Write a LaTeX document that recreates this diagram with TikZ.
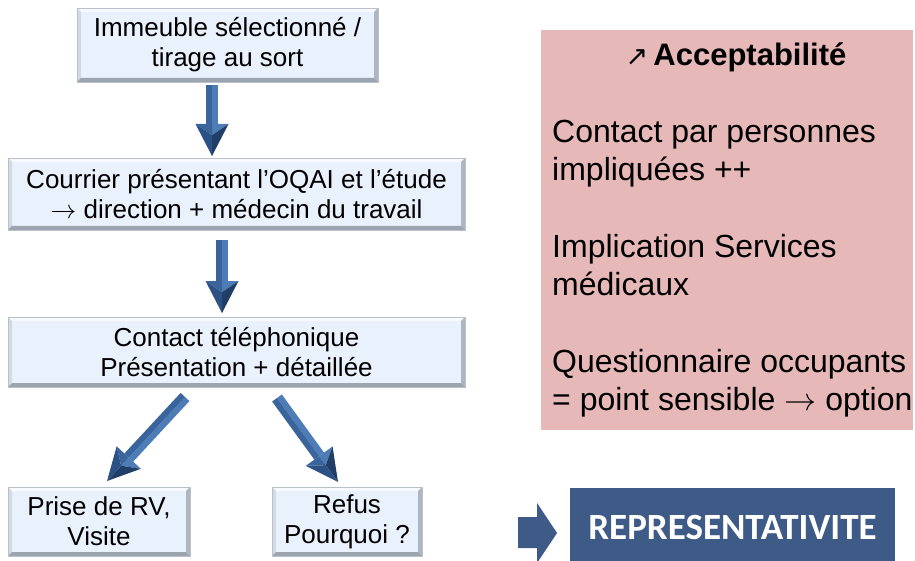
\RequirePackage{fix-cm}
\documentclass[tikz,border=0pt]{standalone}
\usepackage{fontspec}
\setmainfont{Liberation Sans}
\newfontfamily\carlito{Carlito}
\newfontfamily\dejavu{DejaVu Sans}
\usetikzlibrary{calc}
\definecolor{boxfill}{HTML}{E9F1FC}
\definecolor{bvtop}{HTML}{F6F9FE}
\definecolor{bvleft}{HTML}{D3DAE5}
\definecolor{bvright}{HTML}{AEB6C2}
\definecolor{bvbot}{HTML}{9CA4B0}
\definecolor{bvedge}{HTML}{B9C0CA}
\definecolor{pinkc}{HTML}{E6B9B8}
\definecolor{repblue}{HTML}{3E5A87}
\definecolor{arlight}{HTML}{4E7CB7}
\definecolor{armid}{HTML}{3A649C}
\definecolor{ardark}{HTML}{213E66}
\definecolor{armdark}{HTML}{2C5184}
\tikzset{
  flowbox/.style={fill=boxfill, align=center, inner sep=0pt, outer sep=0pt,
    font=\fontsize{26}{30}\selectfont, text=black},
}
\newcommand\bevel[1]{%
  \fill[bvtop] (#1.north west) -- (#1.north east) -- ([shift={(-4pt,-4pt)}]#1.north east) -- ([shift={(4pt,-4pt)}]#1.north west) -- cycle;
  \fill[bvleft] (#1.north west) -- ([shift={(4pt,-4pt)}]#1.north west) -- ([shift={(4pt,4pt)}]#1.south west) -- (#1.south west) -- cycle;
  \fill[bvright] (#1.north east) -- ([shift={(-4pt,-4pt)}]#1.north east) -- ([shift={(-4pt,4pt)}]#1.south east) -- (#1.south east) -- cycle;
  \fill[bvbot] (#1.south west) -- ([shift={(4pt,4pt)}]#1.south west) -- ([shift={(-4pt,4pt)}]#1.south east) -- (#1.south east) -- cycle;
  \draw[bvedge, line width=0.6pt] (#1.north west) rectangle (#1.south east);
}
% 3D block arrow from #1 (tail) to #2 (tip)
\newcommand\tdarrow[2]{%
  \coordinate (hc) at ($(#2)!32pt!(#1)$);
  \coordinate (t1) at ($(#1)!6pt!90:(#2)$);
  \coordinate (t2) at ($(#1)!6pt!-90:(#2)$);
  \coordinate (h1) at ($(hc)!6pt!90:(#2)$);
  \coordinate (h2) at ($(hc)!6pt!-90:(#2)$);
  \coordinate (w1) at ($(hc)!16.5pt!90:(#2)$);
  \coordinate (w2) at ($(hc)!16.5pt!-90:(#2)$);
  \coordinate (pk) at ($(hc)!0.35!(#2)$);
  \fill[arlight] (#1) -- (t1) -- (h1) -- (hc) -- cycle;
  \fill[armid] (#1) -- (t2) -- (h2) -- (hc) -- cycle;
  \fill[arlight] (w1) -- (hc) -- (pk) -- cycle;
  \fill[armid] (w2) -- (hc) -- (pk) -- cycle;
  \fill[ardark] (w1) -- (#2) -- (pk) -- cycle;
  \fill[armdark] (w2) -- (#2) -- (pk) -- cycle;
}
\begin{document}
\begin{tikzpicture}[x=1pt,y=-1pt]
\useasboundingbox (0,0) rectangle (915,561);
% flow boxes
\node[flowbox, minimum width=301pt, minimum height=74pt] (b1) at (227.5,45) {Immeuble sélectionné /\\tirage au sort};
\node[flowbox, minimum width=457pt, minimum height=72pt] (b2) at (236.5,194) {Courrier présentant l’OQAI et l’étude\\$\rightarrow$ direction + médecin du travail};
\node[flowbox, minimum width=457pt, minimum height=70pt] (b3) at (236.5,352) {Contact téléphonique\\Présentation + détaillée};
\node[flowbox, minimum width=182pt, minimum height=69pt] (b4) at (99,521.5) {Prise de RV,\\Visite};
\node[flowbox, minimum width=150pt, minimum height=69pt] (b5) at (347,521.5) {Refus\\Pourquoi ?};
\bevel{b1}\bevel{b2}\bevel{b3}\bevel{b4}\bevel{b5}
% arrow end points
\coordinate (a1s) at (212,85);
\coordinate (a1e) at (a1s |- b2.north);
\coordinate (a1e) at ([yshift=2pt]a1e);
\coordinate (a2s) at (222,240);
\coordinate (a2e) at (a2s |- b3.north);
\coordinate (a2e) at ([yshift=4pt]a2e);
\coordinate (a3s) at (185,397);
\coordinate (a3e) at (107,481);
\coordinate (a4s) at (277,398);
\coordinate (a4e) at (338,482);
\tdarrow{a1s}{a1e}
\tdarrow{a2s}{a2e}
\tdarrow{a3s}{a3e}
\tdarrow{a4s}{a4e}
% pink panel
\node[fill=pinkc, minimum width=372pt, minimum height=400pt, inner sep=0pt] (pk) at (727,230) {};
\node[anchor=base, inner sep=0pt, font=\bfseries\fontsize{31}{36}\selectfont] (ttl) at (736,66) {{\dejavu\mdseries\fontsize{27}{30}\selectfont ↗}\,Acceptabilité};
\node[anchor=north west, align=left, inner sep=0pt, font=\fontsize{32}{38.3}\selectfont] (body) at (552,120) {Contact par personnes\\impliquées ++\\[38.3pt]Implication Services\\médicaux\\[38.3pt]Questionnaire occupants\\= point sensible $\rightarrow$ option};
% representativite
\node[fill=repblue, text=white, font=\carlito\bfseries\fontsize{37}{44}\selectfont, minimum width=325pt, minimum height=73pt, inner sep=0pt, text height=29pt, text depth=0pt] (rep) at (732.5,524.5) {REPRESENTATIVITE};
\fill[repblue] (518,517) -- (537,517) -- (537,503) -- (557,533) -- (537,563) -- (537,548) -- (518,548) -- cycle;
\end{tikzpicture}
\end{document}
